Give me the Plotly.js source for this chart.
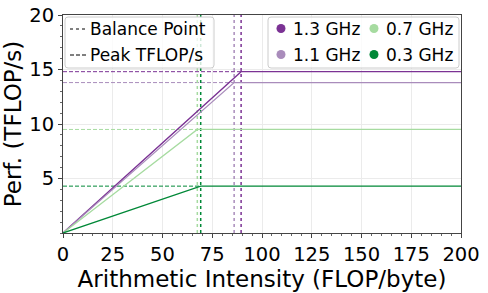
<!DOCTYPE html>
<html><head><meta charset="utf-8">
<script src="https://cdn.plot.ly/plotly-3.0.1.min.js"></script>
<style>html,body{margin:0;padding:0;background:#fff}#c{width:488px;height:293px}</style>
</head><body><div id="c"></div>
<script>
const freqs = ["1.3 GHz", "1.1 GHz", "0.7 GHz", "0.3 GHz"];
const peakTflops = [14.8, 13.8, 9.5, 4.3];
const balancePoints = [89.5, 86.0, 67.5, 69.2];
const colors = ["#7b3294", "#a98cbb", "#a6dba0", "#008837"];
const styleLabels = ["Balance Point", "Peak TFLOP/s"];
const xMax = 200;
const yMax = 20;
const xTicks = [0, 25, 50, 75, 100, 125, 150, 175, 200];
const yTicks = [5, 10, 15, 20];

const traces = [];
freqs.forEach((f, i) => {
  const bp = balancePoints[i], pk = peakTflops[i];
  traces.push({x: [0, bp], y: [pk, pk], mode: 'lines', line: {color: colors[i], width: 1, dash: '4px,2px'}, showlegend: false, hoverinfo: 'skip'});
  traces.push({x: [bp, bp], y: [0, yMax], mode: 'lines', line: {color: colors[i], width: 1.5, dash: 'dot'}, showlegend: false, hoverinfo: 'skip'});
});
freqs.forEach((f, i) => {
  const bp = balancePoints[i], pk = peakTflops[i];
  traces.push({x: [0, bp, xMax], y: [0, pk, pk], mode: 'lines', name: f, line: {color: colors[i], width: 1.3}, showlegend: false, hoverinfo: 'skip'});
});

// plot area in pixels (for legend placement)
const L = 63, T = 15, W = 398, H = 218;
const px = x => (x - L) / W;
const py = y => (T + H - y) / H;

function roundBox(x0, y0, x1, y1, r) {
  const rx = r / W, ry = r / H;
  const a = px(x0), b = px(x1), c = py(y0), d = py(y1);
  return `M ${a + rx} ${c} L ${b - rx} ${c} Q ${b} ${c} ${b} ${c - ry} L ${b} ${d + ry} Q ${b} ${d} ${b - rx} ${d} ` +
         `L ${a + rx} ${d} Q ${a} ${d} ${a} ${d + ry} L ${a} ${c - ry} Q ${a} ${c} ${a + rx} ${c} Z`;
}

const shapes = [];
const annotations = [];
const legFont = {family: 'DejaVu Sans', size: 17, color: '#000'};
shapes.push({type: 'path', xref: 'paper', yref: 'paper', path: roundBox(65, 17, 214, 68, 3), line: {color: '#cccccc', width: 1}, fillcolor: 'rgba(255,255,255,0.8)', layer: 'above'});
const rowY = [29, 55];
const dashes = ['dot', '4px,2px'];
styleLabels.forEach((s, k) => {
  shapes.push({type: 'line', xref: 'paper', yref: 'paper', x0: px(70), x1: px(87), y0: py(rowY[k]), y1: py(rowY[k]), line: {color: '#000', width: 1, dash: dashes[k]}, layer: 'above'});
  annotations.push({xref: 'paper', yref: 'paper', x: px(89), y: py(rowY[k]), xanchor: 'left', yanchor: 'middle', text: s, showarrow: false, font: legFont, borderpad: 0});
});
shapes.push({type: 'path', xref: 'paper', yref: 'paper', path: roundBox(268, 17, 459, 68, 3), line: {color: '#cccccc', width: 1}, fillcolor: 'rgba(255,255,255,0.8)', layer: 'above'});
const colX = [281, 374];
freqs.forEach((f, i) => {
  const col = i < 2 ? 0 : 1, row = i % 2;
  const cx = px(colX[col]), cy = py(rowY[row] - 0.5);
  shapes.push({type: 'circle', xref: 'paper', yref: 'paper', xsizemode: 'pixel', ysizemode: 'pixel', xanchor: cx, yanchor: cy,
    x0: -4.5, x1: 4.5, y0: -4.5, y1: 4.5, fillcolor: colors[i], line: {width: 0}, layer: 'above'});
  annotations.push({xref: 'paper', yref: 'paper', x: px(colX[col] + 11), y: py(rowY[row]), xanchor: 'left', yanchor: 'middle', text: f, showarrow: false, font: legFont, borderpad: 0});
});

const layout = {
  width: 488, height: 293,
  margin: {l: L, r: 488 - L - W, t: T, b: 293 - T - H},
  paper_bgcolor: '#fff', plot_bgcolor: '#fff',
  font: {family: 'DejaVu Sans', color: '#000'},
  showlegend: false,
  xaxis: {range: [0, xMax], tickvals: xTicks, ticktext: xTicks.map(String), showgrid: true, gridcolor: '#ebebeb', gridwidth: 1,
    zeroline: false, showline: true, linecolor: '#444', linewidth: 1, mirror: true, ticks: 'outside', ticklen: 4, tickcolor: '#444',
    tickfont: {size: 19.5}, title: {text: 'Arithmetic Intensity (FLOP/byte)', font: {size: 23}, standoff: 1},
    minor: {ticks: 'outside', ticklen: 2, dtick: 5, tickcolor: '#666', showgrid: false}},
  yaxis: {range: [0, yMax], tickvals: yTicks, ticktext: yTicks.map(String), showgrid: true, gridcolor: '#ebebeb', gridwidth: 1,
    zeroline: false, showline: true, linecolor: '#444', linewidth: 1, mirror: true, ticks: 'outside', ticklen: 4, tickcolor: '#444',
    tickfont: {size: 19.5}, title: {text: 'Perf. (TFLOP/s)', font: {size: 23}, standoff: 4},
    minor: {ticks: 'outside', ticklen: 2, dtick: 1, tickcolor: '#666', showgrid: false}},
  shapes: shapes,
  annotations: annotations
};
Plotly.newPlot('c', traces, layout, {staticPlot: true, displayModeBar: false});
</script></body></html>
